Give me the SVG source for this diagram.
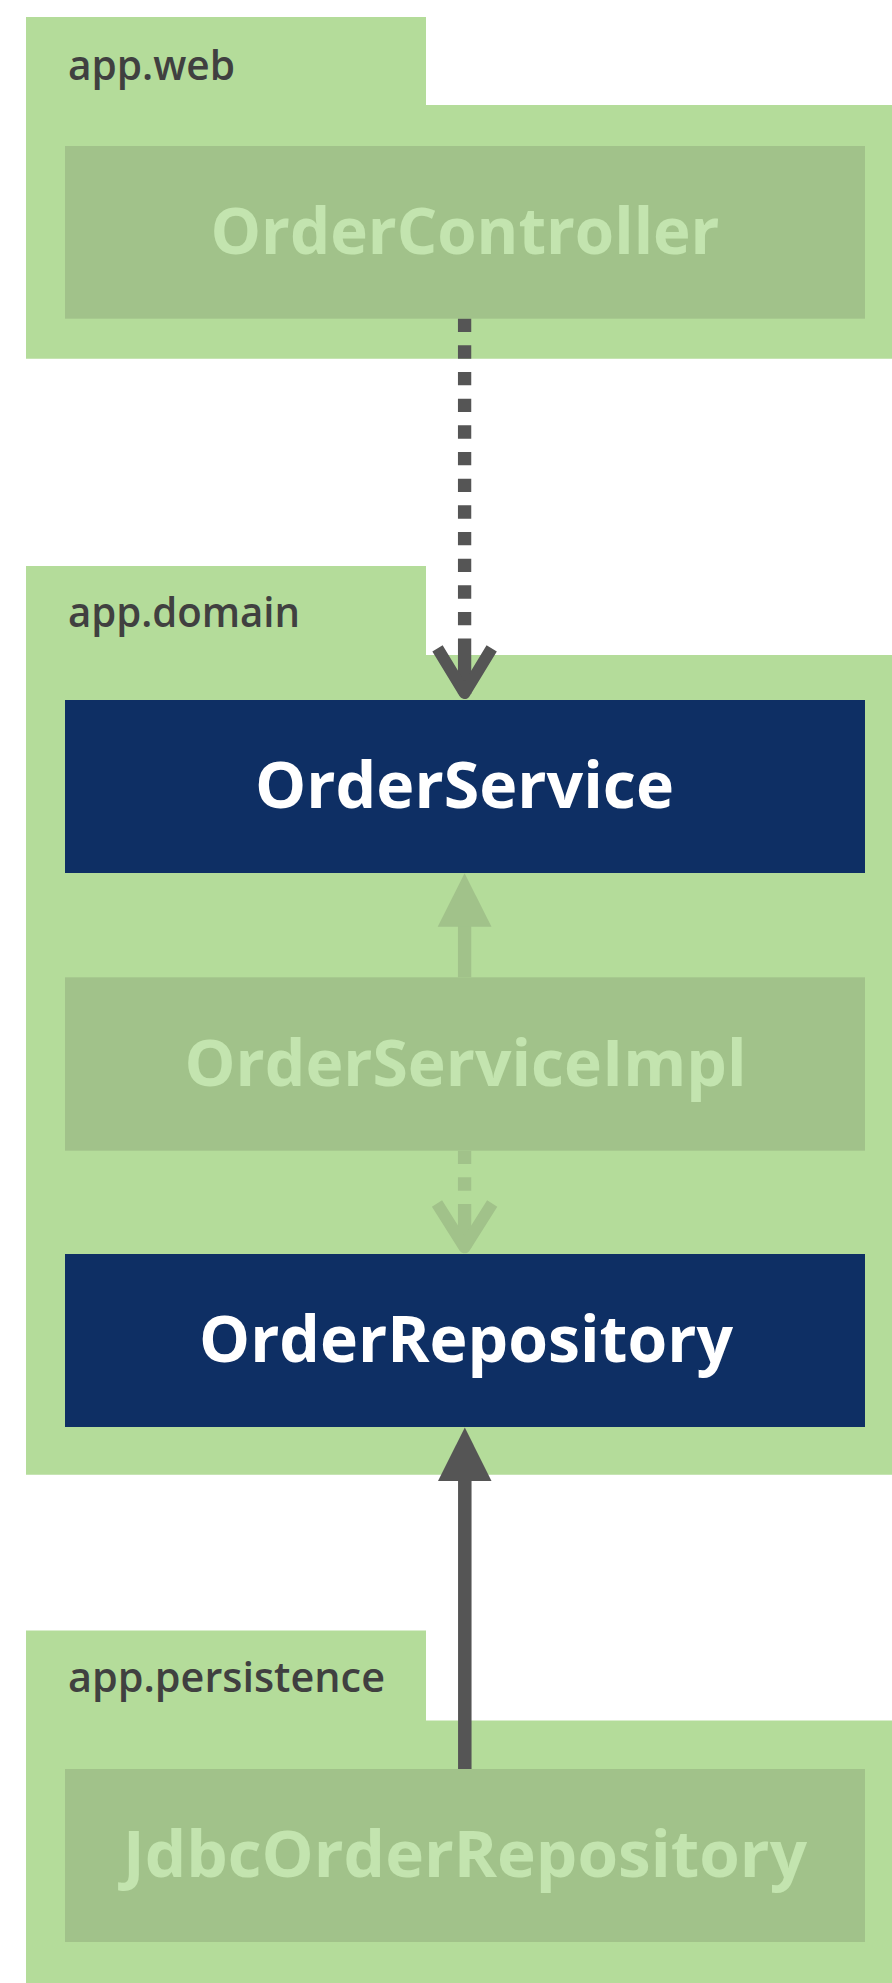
<svg xmlns="http://www.w3.org/2000/svg" width="892" height="1983" viewBox="0 0 892 1983">
  <style>
    .pkg { fill: #b4dc9a; }
    .pkglabel { font-family: "Open Sans", "Noto Sans", sans-serif; font-weight: 600; font-size: 42px; fill: #404040; }
    .faded rect { fill: #a1c28a; }
    .faded text { fill: #c3e4af; }
    .active rect { fill: #0e2f64; }
    .active text { fill: #ffffff; }
    .nodetext { font-family: "Open Sans", "Noto Sans", sans-serif; font-weight: 700; font-size: 64px; text-anchor: middle; }
    .dark { stroke: #555555; fill: none; }
    .light { stroke: #a1c28a; fill: none; }
  </style>
  <rect width="892" height="1983" fill="#ffffff"/>

  <g id="pkg-web">
    <path class="pkg" d="M26,17 H426 V105 H892 V358.7 H26 Z"/>
    <text class="pkglabel" x="68" y="80" textLength="167" lengthAdjust="spacingAndGlyphs">app.web</text>
  </g>
  <g id="pkg-domain">
    <path class="pkg" d="M26,566 H426 V655 H892 V1474.7 H26 Z"/>
    <text class="pkglabel" x="68" y="626.7" textLength="232" lengthAdjust="spacingAndGlyphs">app.domain</text>
  </g>
  <g id="pkg-persistence">
    <path class="pkg" d="M26,1630.5 H426 V1720.4 H892 V1983 H26 Z"/>
    <text class="pkglabel" x="68" y="1692.3" textLength="317" lengthAdjust="spacingAndGlyphs">app.persistence</text>
  </g>

  <g id="node-OrderController" class="faded">
    <rect x="65" y="146" width="800" height="172.7"/>
    <text class="nodetext" x="465" y="254.3" textLength="509" lengthAdjust="spacingAndGlyphs">OrderController</text>
  </g>
  <g id="node-OrderService" class="active">
    <rect x="65" y="700" width="800" height="173"/>
    <text class="nodetext" x="464.5" y="808.3" textLength="419" lengthAdjust="spacingAndGlyphs">OrderService</text>
  </g>
  <g id="node-OrderServiceImpl" class="faded">
    <rect x="65" y="977.3" width="800" height="173.4"/>
    <text class="nodetext" x="465.5" y="1085.5" textLength="562" lengthAdjust="spacingAndGlyphs">OrderServiceImpl</text>
  </g>
  <g id="node-OrderRepository" class="active">
    <rect x="65" y="1254" width="800" height="173"/>
    <text class="nodetext" x="466" y="1361.7" textLength="534" lengthAdjust="spacingAndGlyphs">OrderRepository</text>
  </g>
  <g id="node-JdbcOrderRepository" class="faded">
    <rect x="65" y="1769" width="800" height="173"/>
    <text class="nodetext" x="465" y="1876.7" textLength="684" lengthAdjust="spacingAndGlyphs">JdbcOrderRepository</text>
  </g>

  <g id="connectors">
    <!-- OrderController to OrderService: dashed, open arrowhead -->
    <g id="edge-controller-service">
      <line class="dark" x1="464.6" y1="318.7" x2="464.6" y2="639" stroke-width="13.3" stroke-dasharray="13.33 13.33"/>
      <line class="dark" x1="464.6" y1="639" x2="464.6" y2="694" stroke-width="13.3"/>
      <polyline class="dark" points="437.5,648.3 464.6,693 491.7,648.3" stroke-width="12" stroke-linejoin="round"/>
    </g>
    <!-- OrderServiceImpl to OrderService: solid, filled triangle -->
    <g id="edge-impl-service">
      <line class="light" x1="464.6" y1="977.3" x2="464.6" y2="925" stroke-width="13.3"/>
      <polygon points="464.6,873.3 437.7,926.7 491.5,926.7" fill="#a1c28a"/>
    </g>
    <!-- OrderServiceImpl to OrderRepository: dashed, open arrowhead -->
    <g id="edge-impl-repository">
      <line class="light" x1="464.6" y1="1150.7" x2="464.6" y2="1204" stroke-width="13.3" stroke-dasharray="13.33 13.33"/>
      <line class="light" x1="464.6" y1="1204" x2="464.6" y2="1248" stroke-width="13.3"/>
      <polyline class="light" points="437,1203.5 464.6,1247.3 492.2,1203.5" stroke-width="12" stroke-linejoin="round"/>
    </g>
    <!-- JdbcOrderRepository to OrderRepository: solid, filled triangle -->
    <g id="edge-jdbc-repository">
      <line class="dark" x1="464.8" y1="1769" x2="464.8" y2="1479" stroke-width="13.5"/>
      <polygon points="464.8,1427.5 438,1481 491.5,1481" fill="#555555"/>
    </g>
  </g>
</svg>
